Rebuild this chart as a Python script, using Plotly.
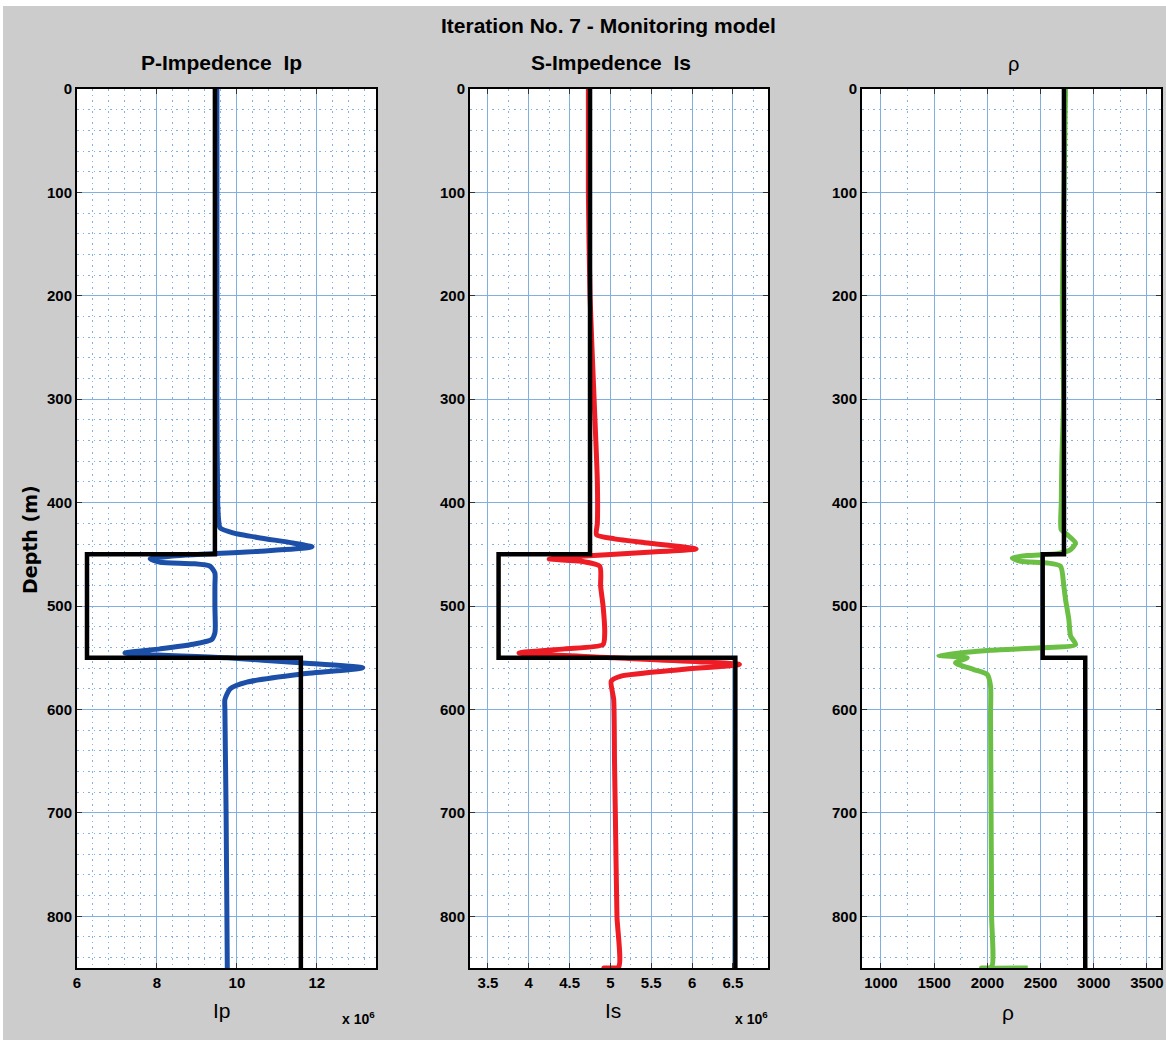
import plotly.graph_objects as go

# ---------------- data ----------------
# Model (true) layers: layer boundaries (m) and values
layer_depths = [0, 450, 550, 850]
ip_model = [9.45, 6.25, 11.6]        # x 10^6
is_model = [4.75, 3.63, 6.53]        # x 10^6
rho_model = [2720, 2520, 2920]

# Inverted P-impedance (x 10^6) vs depth
ip_depth = [0, 100, 200, 300, 400, 419.6, 424.5, 429.3, 434.1, 439, 442.8, 447, 451.8, 454.4,
            457.6, 459, 461.5, 468, 480, 500, 520, 526, 532.4, 537, 541.4, 545.3, 550, 554.9,
            559.7, 566, 573.6, 580, 590.3, 600, 700, 800, 850]
ip_inv = [9.50, 9.50, 9.50, 9.50, 9.52, 9.55, 9.58, 9.90, 10.58, 11.40, 11.88, 10.58, 8.33, 7.83,
          8.08, 8.90, 9.33, 9.45, 9.45, 9.45, 9.46, 9.45, 9.37, 8.90, 8.08, 7.20, 9.75, 11.58,
          13.15, 11.58, 10.25, 9.83, 9.70, 9.70, 9.73, 9.75, 9.76]

# Inverted S-impedance (x 10^6) vs depth
is_depth = [0, 100, 200, 300, 380, 420, 431, 435, 439, 444.7, 448, 451.8, 454.4, 456.7, 461.5,
            480.8, 500, 526, 537.2, 541.4, 545.3, 550, 556.5, 561.4, 567.8, 572.6, 590.3, 650,
            700, 800, 849, 850, 850]
is_inv = [4.73, 4.73, 4.75, 4.80, 4.84, 4.84, 4.83, 5.05, 5.46, 6.05, 5.46, 4.64, 4.25, 4.64, 4.87,
          4.88, 4.91, 4.93, 4.91, 4.44, 3.88, 5.05, 6.58, 5.87, 5.13, 5.01, 5.04, 5.05,
          5.06, 5.08, 5.10, 4.92, 5.13]

# Inverted density vs depth
rho_depth = [0, 100, 200, 300, 360, 400, 426, 431, 439, 445.4, 449.3, 451.2, 453.5, 456.7, 458.3,
             461.5, 480.8, 493.7, 513, 529, 537.2, 540.4, 542.7, 547.8, 550, 554.9, 561.4, 566.2,
             577.5, 606.5, 700, 800, 849, 850, 850]
rho_inv = [2735, 2720, 2705, 2716, 2700, 2695, 2694, 2751, 2829, 2782, 2657, 2375, 2234, 2312, 2563,
           2688, 2719, 2735, 2766, 2782, 2829, 2500, 2030, 1544, 1811, 1701, 1873, 1999,
           2030, 2030, 2035, 2040, 2040, 1945, 2380]

# axis settings (tick labels)
depth_ticks = [0, 100, 200, 300, 400, 500, 600, 700, 800]

# ---------------- figure ----------------
W, H = 1166, 1040
FONT = "Liberation Sans, Arial, sans-serif"
MAJ = "#80b0e2"
MIN = "#7fb0e6"


def step(vals):
    xs, ys = [], []
    for i, v in enumerate(vals):
        xs += [v, v]
        ys += [layer_depths[i], layer_depths[i + 1]]
    return xs, ys


fig = go.Figure()

panels = [
    (ip_inv, ip_depth, ip_model, "#1c50a8"),
    (is_inv, is_depth, is_model, "#ee1c25"),
    (rho_inv, rho_depth, rho_model, "#6cbf45"),
]
for i, (xv, yv, mv, col) in enumerate(panels):
    ax = "" if i == 0 else str(i + 1)
    fig.add_trace(go.Scatter(x=xv, y=yv, mode="lines",
                             line=dict(color=col, width=5, shape="spline", smoothing=0.6),
                             xaxis="x" + ax, yaxis="y" + ax, showlegend=False))
    sx, sy = step(mv)
    fig.add_trace(go.Scatter(x=sx, y=sy, mode="lines", line=dict(color="black", width=4.5),
                             xaxis="x" + ax, yaxis="y" + ax, showlegend=False))

px_x = [(77, 376), (470, 768), (862, 1161)]
y_top, y_bot = 89, 968
x_ranges = [[6, 13.48], [3.28, 6.93], [822, 3632]]
x_tick = [dict(tick0=6, dtick=2), dict(tick0=3.5, dtick=0.5), dict(tick0=1000, dtick=500)]
x_minor = [0.4, 0.25, 250]

tickfont = dict(family=FONT, size=15, color="black", weight="bold")
layout = dict(
    width=W, height=H,
    margin=dict(l=0, r=0, t=0, b=0, autoexpand=False),
    paper_bgcolor="#cccccc", plot_bgcolor="white",
    font=dict(family=FONT, color="black"),
    showlegend=False,
)
for i in range(3):
    ax = "" if i == 0 else str(i + 1)
    x0, x1 = px_x[i]
    layout["xaxis" + ax] = dict(
        domain=[x0 / W, x1 / W], anchor="y" + ax, range=x_ranges[i],
        tickmode="linear", **x_tick[i], automargin=False, ticklabeloverflow="allow",
        showgrid=True, gridcolor=MAJ, gridwidth=1.2,
        minor=dict(dtick=x_minor[i], tick0=x_tick[i]["tick0"], showgrid=True, gridcolor=MIN,
                   griddash="1.5px,4px", gridwidth=1.2),
        ticks="inside", ticklen=5, tickcolor="#333", tickwidth=1,
        showline=True, linecolor="black", linewidth=2, mirror="ticks",
        zeroline=False, tickfont=tickfont,
    )
    layout["yaxis" + ax] = dict(
        domain=[1 - y_bot / H, 1 - y_top / H], anchor="x" + ax, range=[850, 0],
        tickmode="array", tickvals=depth_ticks, automargin=False, ticklabeloverflow="allow",
        showgrid=True, gridcolor=MAJ, gridwidth=1.2,
        minor=dict(dtick=20, tick0=0, showgrid=True, gridcolor=MIN, griddash="1.5px,4px",
                   gridwidth=1.2),
        ticks="inside", ticklen=5, tickcolor="#333", tickwidth=1,
        showline=True, linecolor="black", linewidth=2, mirror="ticks",
        zeroline=False, tickfont=tickfont,
    )
fig.update_layout(**layout)


def ann(text, x, y, size, bold=True, angle=0, family=FONT):
    fig.add_annotation(text=text, x=x / W, y=1 - y / H, xref="paper", yref="paper",
                       showarrow=False, xanchor="center", yanchor="middle", textangle=angle,
                       font=dict(family=family, size=size, color="black",
                                 weight="bold" if bold else "normal"))


ann("Iteration No. 7 - Monitoring model", 609, 25, 21)
ann("P-Impedence  Ip", 221, 62, 21)
ann("S-Impedence  Is", 611, 62, 21)
ann("ρ", 1013, 64, 20, bold=False)
ann("Ip", 222, 1010, 21, bold=False)
ann("Is", 613, 1010, 21, bold=False)
ann("ρ", 1008, 1012, 21, bold=False)
ann("x 10<sup>6</sup>", 358, 1018, 14)
ann("x 10<sup>6</sup>", 751, 1018, 14)
ann("Depth (m)", 30, 540, 19, angle=-90, family="DejaVu Sans, sans-serif")

# white border strips of the original figure window
fig.add_shape(type="rect", xref="paper", yref="paper", x0=0, x1=1, y0=1 - 6 / H, y1=1,
              fillcolor="white", line_width=0, layer="below")
fig.add_shape(type="rect", xref="paper", yref="paper", x0=0, x1=3 / W, y0=0, y1=1,
              fillcolor="white", line_width=0, layer="below")

fig.write_html("out.html")
